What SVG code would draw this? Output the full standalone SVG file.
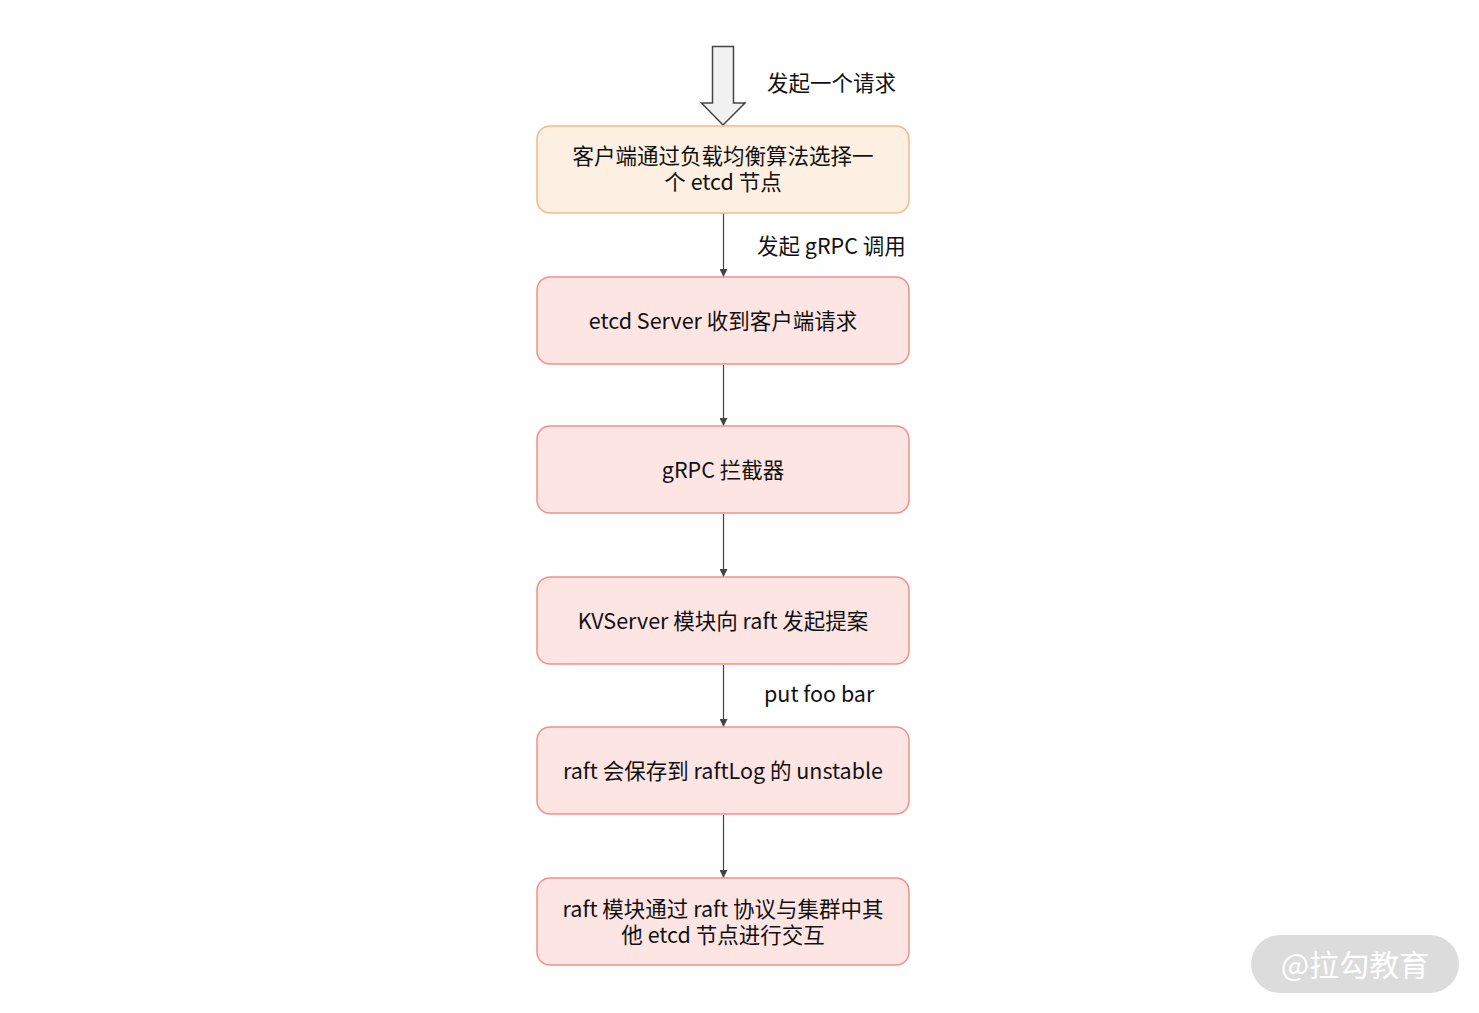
<svg xmlns="http://www.w3.org/2000/svg" width="1479" height="1013" viewBox="0 0 1479 1013">
<defs>
<style>
text{font-family:"Noto Sans CJK SC","Noto Sans",sans-serif;font-size:21.5px;fill:#111;dominant-baseline:central}
.c{text-anchor:middle}
.b1{fill:#fdefe2;stroke:#f7b886;stroke-width:1.5}
.b2{fill:#fde5e4;stroke:#f09189;stroke-width:1.5}
.ln{stroke:#444;stroke-width:1.2;fill:none}
</style>
<marker id="ah" markerWidth="8" markerHeight="8" refX="8" refY="4" orient="auto" markerUnits="userSpaceOnUse">
<path d="M0,0 L8,4 L0,8 Z" fill="#444"/>
</marker>
</defs>
<rect width="1479" height="1013" fill="#fff"/>
<g id="start-arrow">
<path d="M712.5,46.5 H733.5 V103 H745 L723,125 L701.5,103 H712.5 Z" fill="#f1f1f1" stroke="#444" stroke-width="1.5"/>
<text x="767" y="81">发起一个请求</text>
</g>
<g id="connectors">
<line class="ln" x1="723.5" y1="213" x2="723.5" y2="277" marker-end="url(#ah)"/>
<line class="ln" x1="723.5" y1="365" x2="723.5" y2="426" marker-end="url(#ah)"/>
<line class="ln" x1="723.5" y1="514" x2="723.5" y2="577" marker-end="url(#ah)"/>
<line class="ln" x1="723.5" y1="665" x2="723.5" y2="727" marker-end="url(#ah)"/>
<line class="ln" x1="723.5" y1="815" x2="723.5" y2="878" marker-end="url(#ah)"/>
<text x="757" y="244">发起 gRPC 调用</text>
<text x="764" y="692">put foo bar</text>
</g>
<g id="n1">
<rect class="b1" x="537" y="126" width="372" height="87" rx="13"/>
<text class="c" x="723" y="154">客户端通过负载均衡算法选择一</text>
<text class="c" x="723" y="180">个 etcd 节点</text>
</g>
<g id="n2">
<rect class="b2" x="537" y="277" width="372" height="87" rx="13"/>
<text class="c" x="723" y="319">etcd Server 收到客户端请求</text>
</g>
<g id="n3">
<rect class="b2" x="537" y="426" width="372" height="87" rx="13"/>
<text class="c" x="723" y="468">gRPC 拦截器</text>
</g>
<g id="n4">
<rect class="b2" x="537" y="577" width="372" height="87" rx="13"/>
<text class="c" x="723" y="619">KVServer 模块向 raft 发起提案</text>
</g>
<g id="n5">
<rect class="b2" x="537" y="727" width="372" height="87" rx="13"/>
<text class="c" x="723" y="769">raft 会保存到 raftLog 的 unstable</text>
</g>
<g id="n6">
<rect class="b2" x="537" y="878" width="372" height="87" rx="13"/>
<text class="c" x="723" y="907">raft 模块通过 raft 协议与集群中其</text>
<text class="c" x="723" y="933">他 etcd 节点进行交互</text>
</g>
<g id="watermark">
<rect x="1251" y="935" width="208" height="58" rx="29" fill="#dcdcdc"/>
<text class="c" x="1355" y="963" style="font-size:30px;fill:#fff">@拉勾教育</text>
</g>
</svg>
